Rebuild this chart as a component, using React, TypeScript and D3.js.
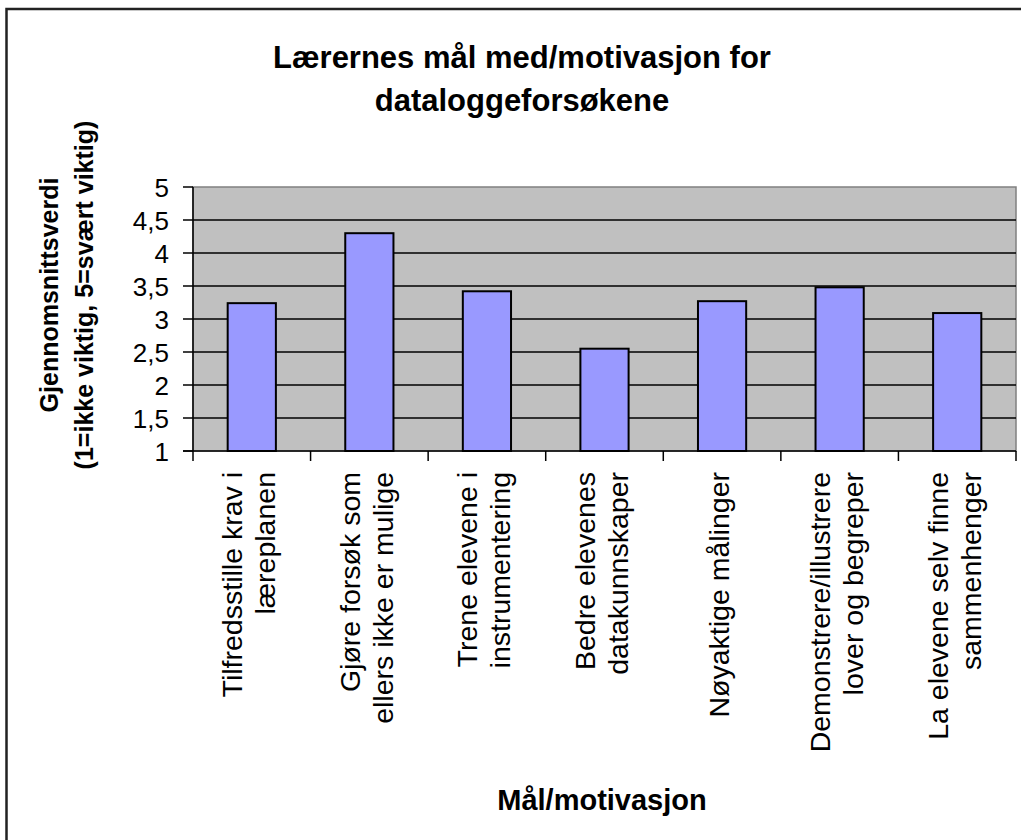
import React from "react";
import * as d3 from "d3";

const titleLines = ["Lærernes mål med/motivasjon for", "dataloggeforsøkene"];
const yTitleLines = ["Gjennomsnittsverdi", "(1=ikke viktig, 5=svært viktig)"];
const xTitle = "Mål/motivasjon";
const categories: string[][] = [
  ["Tilfredsstille krav i", "læreplanen"],
  ["Gjøre forsøk som", "ellers ikke er mulige"],
  ["Trene elevene i", "instrumentering"],
  ["Bedre elevenes", "datakunnskaper"],
  ["Nøyaktige målinger"],
  ["Demonstrere/illustrere", "lover og begreper"],
  ["La elevene selv finne", "sammenhenger"],
];
const values = [3.24, 4.3, 3.42, 2.55, 3.27, 3.48, 3.09];
const yTicks = [1, 1.5, 2, 2.5, 3, 3.5, 4, 4.5, 5];

const W = 1021;
const H = 840;
const plot = { left: 193, right: 1016, top: 187, bottom: 451 };
const FONT = "Arial, 'Liberation Sans', Helvetica, sans-serif";

export default function App() {
  const keys = categories.map((c, i) => String(i));
  const x = d3
    .scaleBand<string>()
    .domain(keys)
    .range([plot.left, plot.right])
    .paddingInner(0.59)
    .paddingOuter(0.295);
  const y = d3.scaleLinear().domain([1, 5]).range([plot.bottom, plot.top]);
  const step = x.step();
  const bounds = d3.range(categories.length + 1).map((i) => plot.left + i * step);
  const fmt = (v: number) => String(v).replace(".", ",");

  return (
    <div style={{ position: "fixed", left: 0, top: 0, width: W, height: H, background: "#fff" }}>
      <svg width={W} height={H} style={{ display: "block", fontFamily: FONT }}>
        <rect x={0} y={0} width={W} height={H} fill="#fff" />
        {/* outer chart frame */}
        <rect x={6.5} y={9} width={W + 20} height={H + 20} fill="none" stroke="#222" strokeWidth={2.5} />

        {/* title */}
        {titleLines.map((t, i) => (
          <text key={i} x={522} y={68 + i * 43} textAnchor="middle" fontSize={31} fontWeight="bold" fill="#000">
            {t}
          </text>
        ))}

        {/* plot area */}
        <rect
          x={plot.left}
          y={plot.top}
          width={plot.right - plot.left}
          height={plot.bottom - plot.top}
          fill="#c0c0c0"
          stroke="#808080"
          strokeWidth={1.5}
        />
        {/* gridlines */}
        {yTicks.slice(1, -1).map((t) => (
          <line key={t} x1={plot.left} x2={plot.right} y1={y(t)} y2={y(t)} stroke="#000" strokeWidth={1.5} />
        ))}

        {/* bars */}
        {values.map((v, i) => (
          <rect
            key={i}
            x={x(String(i))}
            y={y(v)}
            width={x.bandwidth()}
            height={y(1) - y(v)}
            fill="#9999ff"
            stroke="#000"
            strokeWidth={2}
          />
        ))}

        {/* axes */}
        <line x1={plot.left} x2={plot.left} y1={plot.top} y2={plot.bottom} stroke="#000" strokeWidth={1.5} />
        <line x1={plot.left - 10} x2={plot.right} y1={plot.bottom} y2={plot.bottom} stroke="#000" strokeWidth={1.5} />
        {yTicks.map((t) => (
          <g key={t}>
            <line x1={plot.left - 10} x2={plot.left} y1={y(t)} y2={y(t)} stroke="#000" strokeWidth={1.5} />
            <text x={169} y={y(t) + 9.5} textAnchor="end" fontSize={26} fill="#000">
              {fmt(t)}
            </text>
          </g>
        ))}
        {bounds.map((bx, i) => (
          <line key={i} x1={bx} x2={bx} y1={plot.bottom} y2={plot.bottom + 10} stroke="#000" strokeWidth={1.5} />
        ))}

        {/* category labels */}
        {categories.map((lines, i) => {
          const c = (x(String(i)) as number) + x.bandwidth() / 2;
          const lh = 33;
          const n = lines.length;
          return lines.map((ln, j) => {
            const bx = c + 7 + (j - (n - 1) / 2) * lh;
            return (
              <text
                key={i + "-" + j}
                transform={`translate(${bx},${472}) rotate(-90)`}
                textAnchor="end"
                fontSize={28.5}
                fill="#000"
              >
                {ln}
              </text>
            );
          });
        })}

        {/* y axis title */}
        {yTitleLines.map((t, i) => (
          <text
            key={i}
            transform={`translate(${58 + i * 35},${295}) rotate(-90)`}
            textAnchor="middle"
            fontSize={25}
            fontWeight="bold"
            fill="#000"
          >
            {t}
          </text>
        ))}

        {/* x axis title */}
        <text x={602} y={810} textAnchor="middle" fontSize={29} fontWeight="bold" fill="#000">
          {xTitle}
        </text>
      </svg>
    </div>
  );
}
